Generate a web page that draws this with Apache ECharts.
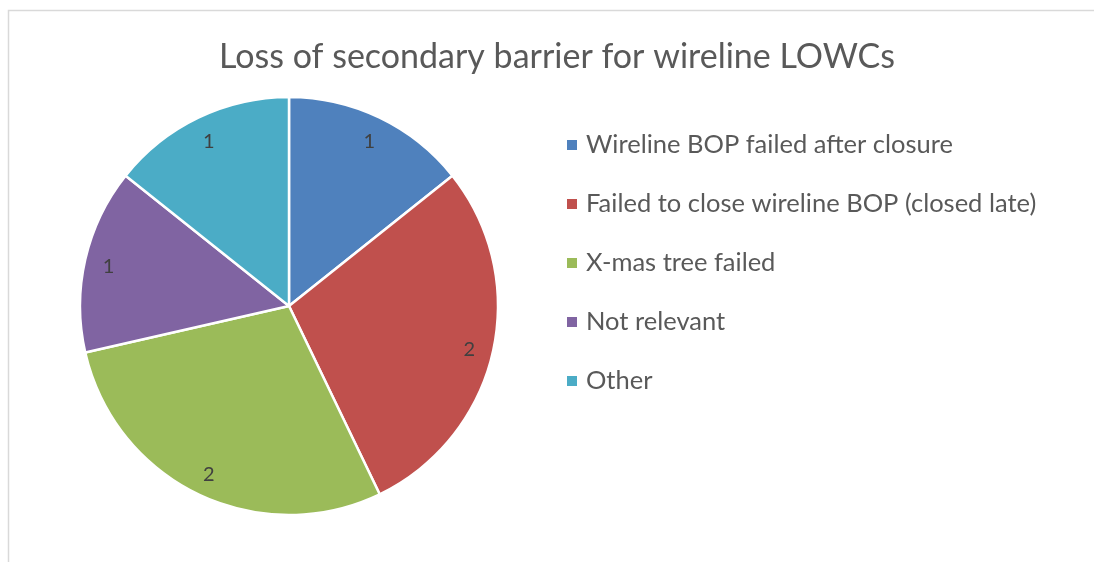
<!DOCTYPE html>
<html>
<head>
<meta charset="utf-8">
<script src="https://cdn.jsdelivr.net/npm/echarts@6/dist/echarts.min.js"></script>
<style>
  html, body { margin: 0; padding: 0; background: #fff; }
  #chart { width: 1094px; height: 562px; }
</style>
</head>
<body>
<div id="chart"></div>
<script>
// Causes of losing the secondary barrier during wireline LOWC events
const titleText = 'Loss of secondary barrier for wireline LOWCs';
const categories = [
  'Wireline BOP failed after closure',
  'Failed to close wireline BOP (closed late)',
  'X-mas tree failed',
  'Not relevant',
  'Other'
];
const counts = [1, 2, 2, 1, 1];
const sliceColors = ['#4F81BD', '#C0504D', '#9BBB59', '#8064A2', '#4BACC6'];

const FONT = 'Lato, "Open Sans", sans-serif';
const TEXT = '#595959';

const pieData = categories.map((name, i) => ({
  name,
  value: counts[i],
  itemStyle: { color: sliceColors[i] }
}));

const chart = echarts.init(document.getElementById('chart'), null, { renderer: 'canvas' });

chart.setOption({
  animation: false,
  backgroundColor: '#fff',
  color: sliceColors,
  graphic: [{
    type: 'rect',
    shape: { x: 8.5, y: 10.5, width: 1200, height: 700 },
    style: { fill: 'none', stroke: '#d9d9d9', lineWidth: 1.5 },
    silent: true,
    z: -10
  }],
  title: {
    text: titleText,
    left: 552,
    top: 35,
    textAlign: 'center',
    textStyle: { fontFamily: FONT, fontSize: 34, fontWeight: 'normal', color: TEXT }
  },
  legend: {
    orient: 'vertical',
    left: 560,
    top: 127,
    icon: 'rect',
    itemWidth: 12,
    itemHeight: 12,
    itemGap: 33,
    selectedMode: false,
    data: categories,
    textStyle: { fontFamily: FONT, fontSize: 25.5, color: TEXT, lineHeight: 26, padding: [0, 0, 0, 3] }
  },
  series: [
    {
      type: 'pie',
      center: [289, 306],
      radius: [0, 209],
      startAngle: 90,
      clockwise: true,
      data: pieData,
      label: { show: false },
      labelLine: { show: false },
      itemStyle: { borderColor: '#fff', borderWidth: 2.5 },
      emphasis: { disabled: true }
    },
    {
      // label ring: places value labels near the outer edge of each slice
      type: 'pie',
      center: [289, 306],
      radius: [155, 209],
      startAngle: 90,
      clockwise: true,
      silent: true,
      data: pieData.map(d => ({ name: d.name, value: d.value, itemStyle: { color: 'rgba(0,0,0,0)' } })),
      itemStyle: { borderWidth: 0 },
      label: {
        show: true,
        position: 'inside',
        formatter: '{c}',
        fontFamily: FONT,
        fontSize: 20,
        color: '#404040',
        offset: [0, 2]
      },
      labelLine: { show: false },
      emphasis: { disabled: true },
      z: 5
    }
  ]
});
</script>
</body>
</html>
